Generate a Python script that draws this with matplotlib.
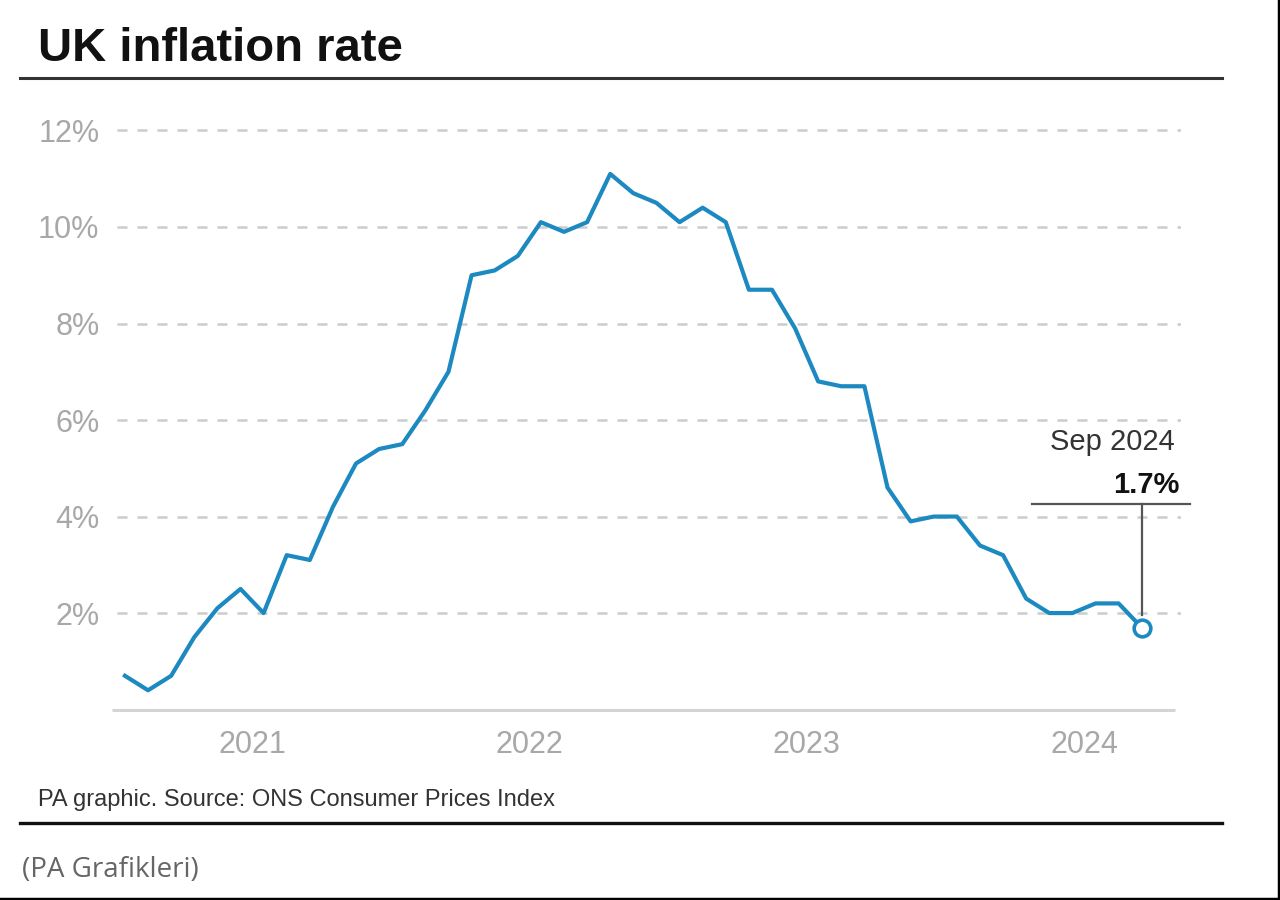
import matplotlib
matplotlib.use("Agg")
import matplotlib.pyplot as plt
from matplotlib.lines import Line2D

# monthly CPI annual rate, Jan 2021 - Sep 2024
months = ["Jan 2021", "Feb 2021", "Mar 2021", "Apr 2021", "May 2021", "Jun 2021",
          "Jul 2021", "Aug 2021", "Sep 2021", "Oct 2021", "Nov 2021", "Dec 2021",
          "Jan 2022", "Feb 2022", "Mar 2022", "Apr 2022", "May 2022", "Jun 2022",
          "Jul 2022", "Aug 2022", "Sep 2022", "Oct 2022", "Nov 2022", "Dec 2022",
          "Jan 2023", "Feb 2023", "Mar 2023", "Apr 2023", "May 2023", "Jun 2023",
          "Jul 2023", "Aug 2023", "Sep 2023", "Oct 2023", "Nov 2023", "Dec 2023",
          "Jan 2024", "Feb 2024", "Mar 2024", "Apr 2024", "May 2024", "Jun 2024",
          "Jul 2024", "Aug 2024", "Sep 2024"]
rate = [0.7, 0.4, 0.7, 1.5, 2.1, 2.5, 2.0, 3.2, 3.1, 4.2, 5.1, 5.4,
        5.5, 6.2, 7.0, 9.0, 9.1, 9.4, 10.1, 9.9, 10.1, 11.1, 10.7, 10.5,
        10.1, 10.4, 10.1, 8.7, 8.7, 7.9, 6.8, 6.7, 6.7, 4.6, 3.9, 4.0,
        4.0, 3.4, 3.2, 2.3, 2.0, 2.0, 2.2, 2.2, 1.7]
years = ["2021", "2022", "2023", "2024"]
yticks = [2, 4, 6, 8, 10, 12]

blue = "#1c89c0"
grey_txt = "#a8a8a8"

x = list(range(len(rate)))

fig = plt.figure(figsize=(12.8, 9.0), dpi=100)
plt.rcParams['font.family'] = ['Liberation Sans', 'DejaVu Sans']

ax = fig.add_axes([112/1280, 188/900, (1181-112)/1280, 596/900])
ax.set_xlim(-0.56, 45.7)
ax.set_ylim(-0.05, 12.3)

for s in ax.spines.values():
    s.set_visible(False)

# dashed gridlines
for v in yticks:
    ax.hlines(v, -0.35, 45.7, colors="#cccccc", linewidth=1.8,
              linestyles=(0, (4, 4)), zorder=1)
# baseline
ax.hlines(0, -0.56, 45.43, colors="#d4d4d4", linewidth=2.2, zorder=1)

ax.plot(x, rate, color=blue, linewidth=3.0, solid_joinstyle="round", zorder=3)
ax.plot([x[-1]], [rate[-1]], marker="o", markersize=12, markerfacecolor="white",
        markeredgecolor=blue, markeredgewidth=2.6, zorder=5, clip_on=False)

ax.set_yticks(yticks)
ax.set_yticklabels([f"{v}%" for v in yticks])
ax.set_xticks([5.5, 17.5, 29.5, 41.5])
ax.set_xticklabels(years)
ax.tick_params(axis="both", length=0, labelsize=22, labelcolor=grey_txt)
ax.tick_params(axis="y", pad=9)
ax.tick_params(axis="x", pad=13)

# annotation for latest value
ax.plot([39.25, 46.08], [4.27, 4.27], color="#555555", linewidth=1.6,
        clip_on=False, zorder=4)
ax.plot([44, 44], [4.27, 1.95], color="#555555", linewidth=1.6,
        clip_on=False, zorder=4)
ax.text(45.43, 5.55, months[-1], ha="right", va="center", fontsize=21,
        color="#333333")
ax.text(45.65, 4.66, f"{rate[-1]}%", ha="right", va="center", fontsize=21,
        fontweight="bold", color="#111111")

# title, rules, source
fig.text(38/1280, 1 - 61/900, "UK inflation rate", fontsize=34,
         fontweight="bold", color="#111111", va="baseline", ha="left")
fig.add_artist(Line2D([20/1280, 1222/1280], [1 - 78/900, 1 - 78/900],
                      color="#333333", linewidth=2.2))
fig.text(38/1280, 1 - 800/900, "PA graphic. Source: ONS Consumer Prices Index",
         fontsize=17, color="#333333", va="center", ha="left")
fig.add_artist(Line2D([20/1280, 1222/1280], [1 - 823/900, 1 - 823/900],
                      color="#111111", linewidth=2.4))
fig.text(22/1280, 1 - 870/900, "(PA Grafikleri)", fontsize=20, color="#666666",
         va="center", ha="left", family=["Open Sans", "DejaVu Sans"])

# frame edges on right and bottom
fig.add_artist(Line2D([1 - 1.5/1280, 1 - 1.5/1280], [0, 1], color="black",
                      linewidth=2.5))
fig.add_artist(Line2D([0, 1], [1.5/900, 1.5/900], color="black", linewidth=2.5))

fig.savefig("out.png", dpi=100)
